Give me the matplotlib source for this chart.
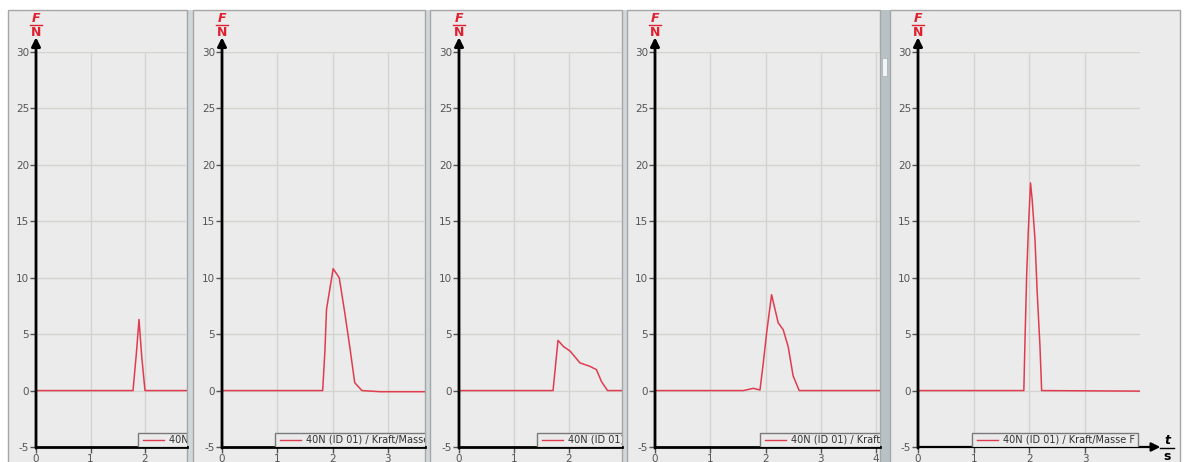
import matplotlib.pyplot as plt
import matplotlib.patches as mpatches

plt.rcParams['axes.unicode_minus'] = False

W, H = 1184, 462

# force curves, one list per panel (t in s, F in N)
t1 = [0, 1.78, 1.84, 1.89, 1.94, 2.0, 2.77]
f1 = [0, 0, 3.2, 6.3, 3.0, 0, 0]

t2 = [0, 1.82, 1.86, 1.89, 2.01, 2.12, 2.22, 2.31, 2.40, 2.53, 2.86, 3.67]
f2 = [0, 0, 3.4, 7.2, 10.8, 10.0, 6.9, 3.9, 0.7, 0, -0.1, -0.1]

t3 = [0, 1.71, 1.80, 1.90, 2.02, 2.20, 2.38, 2.50, 2.59, 2.70, 2.96]
f3 = [0, 0, 4.45, 3.9, 3.5, 2.45, 2.15, 1.85, 0.8, 0, 0]

t4 = [0, 1.60, 1.78, 1.90, 1.96, 2.02, 2.11, 2.23, 2.32, 2.41, 2.50, 2.61, 4.07]
f4 = [0, 0, 0.2, 0.05, 2.45, 5.1, 8.5, 6.0, 5.4, 3.9, 1.3, 0, 0]

t5 = [0, 1.90, 1.92, 1.95, 1.98, 2.02, 2.05, 2.10, 2.14, 2.19, 2.22, 3.99]
f5 = [0, 0, 4.25, 10.1, 14.1, 18.4, 16.9, 13.4, 8.7, 3.9, 0, -0.05]

yticks = [-5, 0, 5, 10, 15, 20, 25, 30]
legend_text = "40N (ID 01) / Kraft/Masse F"

# panel layout in pixels: frame left, frame right, axis x, px per second, x max, legend left
panels = [
    (8, 187, 36, 54.5, 2.77, 138, t1, f1),
    (193, 425, 222, 55.3, 3.67, 275, t2, f2),
    (430, 622, 459, 55.0, 2.96, 537, t3, f3),
    (627, 880, 655, 55.25, 4.07, 760, t4, f4),
    (890, 1180, 918, 55.7, 3.99, 972, t5, f5),
]

y_top, y_bot = 52, 447
ppn = (y_bot - y_top) / 35.0
red = '#e03c50'
gray_txt = '#555555'

fig = plt.figure(figsize=(W / 100, H / 100), dpi=100)
bg = fig.add_axes([0, 0, 1, 1])
bg.set_xlim(0, W)
bg.set_ylim(H, 0)
bg.axis('off')
bg.set_zorder(-1)

# separator strip behind all panels
bg.add_patch(mpatches.Rectangle((8, 10), 1172, 460, facecolor='#cfd8dc', edgecolor='none'))
bg.add_patch(mpatches.Rectangle((880, 10), 10, 460, facecolor='#b8c2c6', edgecolor='none'))
bg.add_patch(mpatches.Rectangle((882, 58), 5, 18, facecolor='#f2f4f5', edgecolor='#aab4b8', lw=0.6))

for left, right, ax_x, ppu, xmax, leg_x, t, f in panels:
    bg.add_patch(mpatches.Rectangle((left, 10), right - left, 460,
                                    facecolor='#ebebeb', edgecolor='#a6a6a6', lw=1))
    # F / N unit label
    bg.text(ax_x, 19, 'F', color='#e0202e', fontsize=9, fontweight='bold',
            fontstyle='italic', ha='center', va='center')
    bg.plot([ax_x - 6, ax_x + 6], [24.5, 24.5], color='#e0202e', lw=1)
    bg.text(ax_x, 32, 'N', color='#e0202e', fontsize=9, fontweight='bold',
            ha='center', va='center')

    ax = fig.add_axes([ax_x / W, 1 - y_bot / H, xmax * ppu / W, (y_bot - y_top) / H])
    ax.set_facecolor('none')
    ax.set_xlim(0, xmax)
    ax.set_ylim(-5, 30)
    ax.set_xticks(range(0, int(xmax) + 1))
    ax.set_yticks(yticks)
    for s in ax.spines.values():
        s.set_visible(False)
    ax.grid(color='#d3d3cf', lw=1)
    ax.set_axisbelow(True)
    ax.tick_params(direction='out', length=4, width=1, color='#555555',
                   labelsize=7.5, labelcolor=gray_txt, pad=1)

    ax.plot(t, f, color=red, lw=1.1, zorder=3)

    # axes lines
    ax.annotate('', xy=(0, 31.3), xytext=(0, -5.1), annotation_clip=False,
                arrowprops=dict(arrowstyle='-|>', color='black', lw=2,
                                mutation_scale=13, shrinkA=0, shrinkB=0))
    if right == 1180:
        ax.annotate('', xy=(4.35, -5), xytext=(0, -5), annotation_clip=False,
                    arrowprops=dict(arrowstyle='-|>', color='black', lw=1.6,
                                    mutation_scale=13, shrinkA=0, shrinkB=0))
    else:
        ax.plot([0, (right - ax_x) / ppu], [-5, -5], color='black', lw=2, clip_on=False, zorder=4)

    # clipped legend box
    lx = (leg_x - ax_x) / ppu
    lw_ = 166 / ppu
    lh = 14 / ppn
    ax.add_patch(mpatches.Rectangle((lx, -5), lw_, lh, facecolor='#ebebeb',
                                    edgecolor='#7a7a7a', lw=1, zorder=5, clip_on=True))
    ly = -5 + lh / 2
    ax.plot([lx + 4.5 / ppu, lx + 26 / ppu], [ly, ly], color=red, lw=1, zorder=6)
    ax.text(lx + 31 / ppu, ly, legend_text, fontsize=7, color='#333333',
            va='center', ha='left', zorder=6, clip_on=True)

# t / s unit label
bg.text(1167, 441, 't', color='black', fontsize=9, fontweight='bold',
        fontstyle='italic', ha='center', va='center')
bg.plot([1160, 1174], [448, 448], color='black', lw=1)
bg.text(1167, 456, 's', color='black', fontsize=9, fontweight='bold',
        ha='center', va='center')

fig.savefig('out.png', dpi=100)
